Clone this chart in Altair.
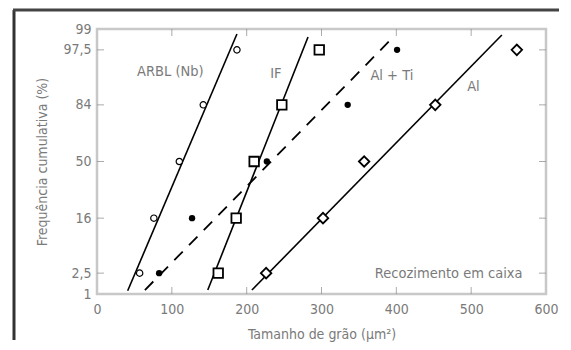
import altair as alt
import pandas as pd
from statistics import NormalDist

nd = NormalDist()


def z(p):
    return nd.inv_cdf(p / 100.0)


# ---- data ----
pct = [2.5, 16, 50, 84, 97.5]
arbl_x = [57, 76, 110, 142, 187]
if_x = [162, 186, 210, 247, 297]
alti_x = [83, 127, 227, 335, 401]
al_x = [226, 302, 357, 452, 561]

# fitted lines (end points: grain size, cumulative %)
arbl_line_x = [41, 187]
arbl_line_p = [1.16, 98.74]
if_line_x = [148, 282]
if_line_p = [1.2, 98.56]
alti_line_x = [64, 396]
alti_line_p = [1.2, 98.56]
al_line_x = [207, 541]
al_line_p = [1.2, 98.68]

tick_pct = [1, 2.5, 16, 50, 84, 97.5, 99]
tick_lbl = ["1", "2,5", "16", "50", "84", "97,5", "99"]
x_ticks = [0, 100, 200, 300, 400, 500, 600]

labels = ["ARBL (Nb)", "IF", "Al + Ti", "Al", "Recozimento em caixa"]
label_x = [98, 239, 394, 503, 470]
label_p = [94.1, 93.7, 93.4, 90.5, 2.45]

W, H = 449, 265
PAD = {"left": 89, "top": 21, "right": 16, "bottom": 48}
FONT = "DejaVu Sans Condensed, Liberation Sans Narrow, DejaVu Sans, sans-serif"
GRAY = "#7a7a7a"

# ---- tables ----
def pts(xs, name):
    return pd.DataFrame({"x": xs, "z": [z(p) for p in pct], "s": name})


def line(xs, ps, name):
    return pd.DataFrame({"x": xs, "z": [z(p) for p in ps], "s": name})


lines_solid = pd.concat([
    line(arbl_line_x, arbl_line_p, "ARBL"),
    line(if_line_x, if_line_p, "IF"),
    line(al_line_x, al_line_p, "Al"),
])
lines_dash = line(alti_line_x, alti_line_p, "AlTi")

lbl_df = pd.DataFrame({"t": labels, "x": label_x, "z": [z(p) for p in label_p]})

zmin, zmax = z(1), z(99)
expr = "''"
for p, l in zip(reversed(tick_pct), reversed(tick_lbl)):
    expr = f"abs(datum.value - ({z(p):.5f})) < 0.01 ? '{l}' : " + expr

xs = alt.Scale(domain=[0, 600], nice=False, zero=False)
ys = alt.Scale(domain=[zmin, zmax], nice=False, zero=False)

X = alt.X("x:Q", scale=xs, axis=alt.Axis(values=x_ticks, ticks=False, domain=False, grid=False,
                                         labelPadding=8, title="Tamanho de grão (µm²)", titlePadding=11,
                                         labelFlush=False))
Y = alt.Y("z:Q", scale=ys, axis=alt.Axis(values=[z(p) for p in tick_pct], labelExpr=expr, ticks=False,
                                         domain=False, grid=False, labelPadding=6,
                                         title="Frequência cumulativa (%)", titlePadding=13,
                                         labelFlush=False))

# outer frame (kept inside the drawing so the page does not overflow)
one = pd.DataFrame({"a": [0]})
frame_l = alt.Chart(one).mark_rule(color="#333", strokeWidth=3).encode(
    x=alt.value(-83), y=alt.value(-19), y2=alt.value(H + PAD["bottom"] - 2))
frame_t = alt.Chart(one).mark_rule(color="#444", strokeWidth=3).encode(
    x=alt.value(-84), x2=alt.value(W + PAD["right"] - 3), y=alt.value(-19))

solid = alt.Chart(lines_solid).mark_line(color="black", strokeWidth=1.6).encode(x=X, y=Y, detail="s:N")
dash = alt.Chart(lines_dash).mark_line(color="black", strokeWidth=1.8, strokeDash=[12, 9]).encode(x=X, y=Y)

circ = alt.Chart(pts(arbl_x, "ARBL")).mark_point(shape="circle", filled=True, fill="white", stroke="black",
                                                strokeWidth=1.2, size=40, opacity=1).encode(x=X, y=Y)
sq = alt.Chart(pts(if_x, "IF")).mark_point(shape="square", filled=True, fill="white", stroke="black",
                                          strokeWidth=1.8, size=90, opacity=1).encode(x=X, y=Y)
dot = alt.Chart(pts(alti_x, "AlTi")).mark_point(shape="circle", filled=True, fill="black",
                                               size=40, opacity=1).encode(x=X, y=Y)
dia = alt.Chart(pts(al_x, "Al")).mark_point(shape="diamond", filled=True, fill="white", stroke="black",
                                           strokeWidth=1.8, size=110, opacity=1).encode(x=X, y=Y)

txt = alt.Chart(lbl_df).mark_text(font=FONT, fontSize=14.5, color=GRAY, align="center").encode(
    x=X, y=Y, text="t:N")

# inner ticks
xt = pd.DataFrame({"x": x_ticks[1:-1]})
yt = pd.DataFrame({"z": [z(p) for p in pct]})
tb = alt.Chart(xt).mark_tick(color="#888", size=7, thickness=1, yOffset=-3.5).encode(
    x=X, y=alt.datum(zmin, scale=ys))
tt = alt.Chart(xt).mark_tick(color="#888", size=7, thickness=1, yOffset=3.5).encode(
    x=X, y=alt.datum(zmax, scale=ys))
tl = alt.Chart(yt).mark_tick(color="#888", size=7, thickness=1, xOffset=3.5, orient="horizontal").encode(
    y=Y, x=alt.datum(0, scale=xs))
tr = alt.Chart(yt).mark_tick(color="#888", size=7, thickness=1, xOffset=-3.5, orient="horizontal").encode(
    y=Y, x=alt.datum(600, scale=xs))

chart = alt.layer(frame_l, frame_t, tb, tt, tl, tr, solid, dash, circ, sq, dot, dia, txt).properties(
    width=W, height=H,
    autosize=alt.AutoSizeParams(type="none"),
    padding=PAD,
).configure_view(stroke="#c8c8c8", strokeWidth=2.5).configure_axis(
    labelFont=FONT, titleFont=FONT, labelFontSize=14, titleFontSize=14, labelColor=GRAY,
    titleColor=GRAY, titleFontWeight="normal")

chart.save("out.html", embed_options={"renderer": "svg", "actions": False})
